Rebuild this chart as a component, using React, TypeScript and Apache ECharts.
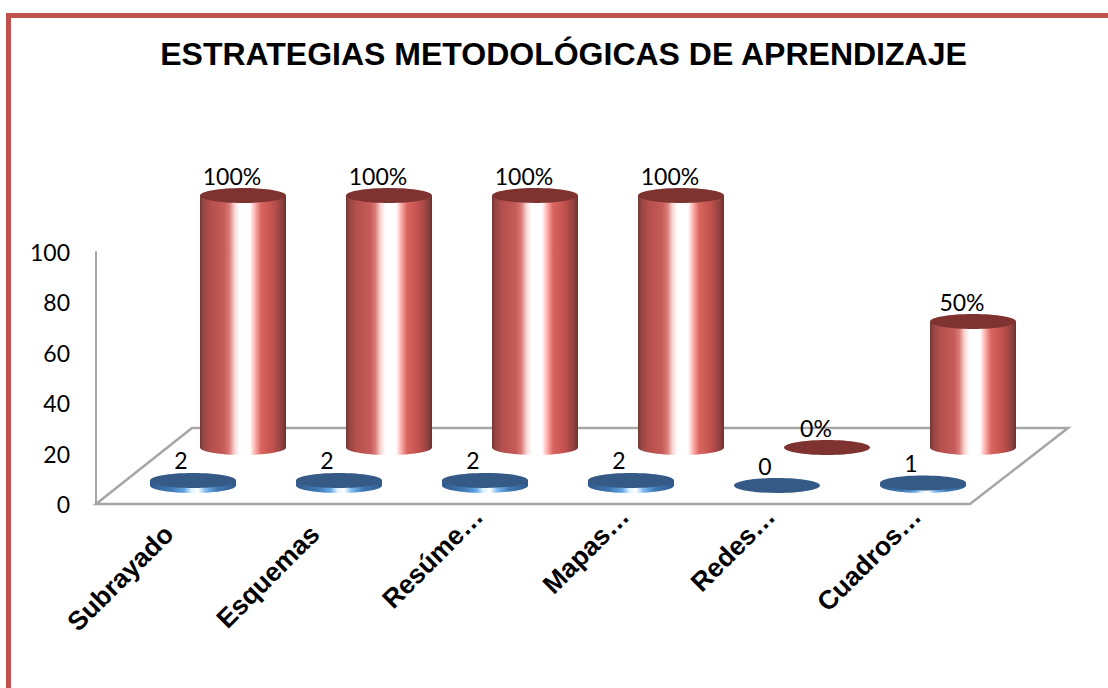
import React, { useEffect, useRef } from "react";
import * as echarts from "echarts";

const categories = ["Subrayado", "Esquemas", "Resúme…", "Mapas…", "Redes…", "Cuadros…"];
const frequencyValues = [2, 2, 2, 2, 0, 1];
const percentValues = [100, 100, 100, 100, 0, 50];
const yTicks = { min: 0, max: 100, interval: 20 };

const BODY_FONT = "Lato";
const LABEL_SIZE = 23;

const redGradient = () => new echarts.graphic.LinearGradient(0, 0, 1, 0, [
  { offset: 0, color: "#733634" },
  { offset: 0.04, color: "#964543" },
  { offset: 0.12, color: "#b34f4c" },
  { offset: 0.28, color: "#c75c59" },
  { offset: 0.34, color: "#d87a76" },
  { offset: 0.4, color: "#f7d4d2" },
  { offset: 0.46, color: "#ffffff" },
  { offset: 0.58, color: "#ffffff" },
  { offset: 0.64, color: "#ffb0ac" },
  { offset: 0.71, color: "#d9655f" },
  { offset: 0.85, color: "#c0504d" },
  { offset: 0.95, color: "#8f4240" },
  { offset: 1, color: "#6b3230" },
]);

const blueGradient = () => new echarts.graphic.LinearGradient(0, 0, 1, 0, [
  { offset: 0, color: "#2f5a8c" },
  { offset: 0.25, color: "#3f78b4" },
  { offset: 0.4, color: "#63a6e4" },
  { offset: 0.48, color: "#dff2ff" },
  { offset: 0.56, color: "#ffffff" },
  { offset: 0.64, color: "#7fbdf2" },
  { offset: 0.78, color: "#3f78b4" },
  { offset: 1, color: "#2f5a8c" },
]);

function cylinderSeries(
  values: number[],
  dx: number,
  dy: number,
  rx: number,
  topColor: string,
  gradient: () => any,
  suffix: string,
  labelDx: number,
) {
  return {
    type: "custom",
    coordinateSystem: "cartesian2d",
    xAxisIndex: 0,
    yAxisIndex: 0,
    clip: false,
    data: values.map((v, i) => [i, v]),
    renderItem: (_: any, api: any) => {
      const value = api.value(1);
      const base = api.coord([api.value(0), 0]);
      const top = api.coord([api.value(0), value]);
      const cx = base[0] + dx;
      const yBase = base[1] + dy;
      const yTop = top[1] + dy;
      const ry = 7.5;
      const children: any[] = [];
      if (value > 0) {
        children.push({
          type: "ellipse",
          shape: { cx, cy: yBase, rx, ry },
          style: { fill: gradient() },
        });
        children.push({
          type: "rect",
          shape: { x: cx - rx, y: yTop, width: rx * 2, height: yBase - yTop },
          style: { fill: gradient() },
        });
      }
      children.push({
        type: "ellipse",
        shape: { cx, cy: yTop, rx, ry },
        style: { fill: topColor },
      });
      children.push({
        type: "text",
        style: {
          text: `${value}${suffix}`,
          x: cx + labelDx,
          y: yTop - 20,
          align: "center",
          verticalAlign: "middle",
          fill: "#000000",
          font: `${LABEL_SIZE}px ${BODY_FONT}`,
        },
      });
      return { type: "group", children };
    },
  };
}

const catFont = {
  color: "#000000",
  fontFamily: "Liberation Sans",
  fontWeight: "bold" as const,
  fontSize: 26.5,
};

export default function App() {
  const ref = useRef<HTMLDivElement>(null);

  useEffect(() => {
    const chart = echarts.init(ref.current!, undefined, { renderer: "svg" });
    chart.setOption({
      animation: false,
      backgroundColor: "#ffffff",
      title: {
        text: "ESTRATEGIAS METODOLÓGICAS DE APRENDIZAJE",
        left: 558.5,
        top: 33,
        textAlign: "center",
        textStyle: {
          fontFamily: "Liberation Sans",
          fontWeight: "bold",
          fontSize: 32,
          color: "#000000",
        },
      },
      grid: [
        { left: 96, top: 252, width: 876, height: 252 },
        { left: 113.4, top: 252, width: 876, height: 252 },
      ],
      xAxis: [
        {
          type: "category",
          gridIndex: 0,
          data: categories,
          axisLine: { show: false },
          axisTick: { show: false },
          splitLine: { show: false },
          axisLabel: { show: false },
        },
        {
          type: "category",
          gridIndex: 1,
          data: categories,
          axisLine: { show: false },
          axisTick: { show: false },
          splitLine: { show: false },
          axisLabel: {
            ...catFont,
            interval: 0,
            rotate: 45,
            margin: 8,
            formatter: (name: string) =>
              name.endsWith("…") ? `{cut|${name}}` : `{full|${name}}`,
            rich: {
              full: { ...catFont, padding: [0, 25, 0, 0] },
              cut: { ...catFont },
            },
          },
        },
      ],
      yAxis: [
        {
          type: "value",
          gridIndex: 0,
          min: yTicks.min,
          max: yTicks.max,
          interval: yTicks.interval,
          axisLine: { show: true, lineStyle: { color: "#a6a6a6", width: 2 } },
          axisTick: { show: false },
          splitLine: { show: false },
          axisLabel: {
            margin: 26,
            color: "#000000",
            fontFamily: BODY_FONT,
            fontSize: LABEL_SIZE,
          },
        },
        {
          type: "value",
          gridIndex: 1,
          min: yTicks.min,
          max: yTicks.max,
          interval: yTicks.interval,
          axisLine: { show: false },
          axisTick: { show: false },
          splitLine: { show: false },
          axisLabel: { show: false },
        },
      ],
      graphic: [
        { type: "rect", z: 0, shape: { x: 6, y: 13, width: 1102, height: 5 }, style: { fill: "#c0504d" } },
        { type: "rect", z: 0, shape: { x: 6, y: 13, width: 5, height: 675 }, style: { fill: "#c0504d" } },
        {
          type: "polygon",
          z: 0,
          shape: { points: [[96, 504], [192, 428], [1068, 428], [970, 504]] },
          style: { fill: "none", stroke: "#a6a6a6", lineWidth: 2.5 },
        },
      ],
      series: [
        cylinderSeries(percentValues, 74, -56.5, 43, "#7e3331", redGradient, "%", -11),
        cylinderSeries(frequencyValues, 24, -18.5, 43, "#355a85", blueGradient, "", -12),
      ],
    });
    return () => chart.dispose();
  }, []);

  return (
    <div
      ref={ref}
      style={{ position: "fixed", left: 0, top: 0, width: 1108, height: 688 }}
    />
  );
}
